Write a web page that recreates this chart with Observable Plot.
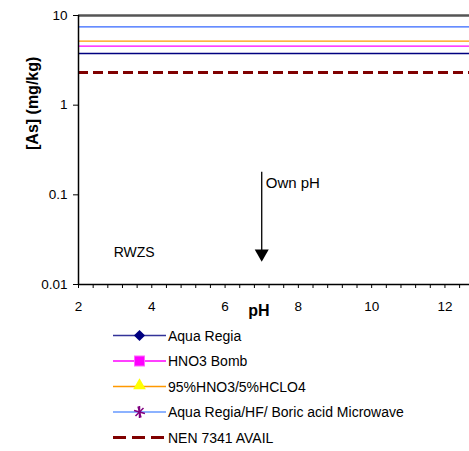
<!DOCTYPE html>
<html>
<head>
<meta charset="utf-8">
<script src="https://cdn.jsdelivr.net/npm/d3@7"></script>
<script src="https://cdn.jsdelivr.net/npm/@observablehq/plot@0.6"></script>
<style>
  html, body { margin: 0; padding: 0; background: #fff; }
  body { width: 469px; height: 451px; overflow: hidden; font-family: "Liberation Sans", Arial, sans-serif; }
  #chart svg { display: block; }
  #legend { display: block; }
</style>
</head>
<body>
<div id="chart"></div>
<svg id="legend" width="469" height="131"></svg>
<script>
// Series (horizontal reference levels, mg/kg)
const seriesNames = ["Aqua Regia", "HNO3 Bomb", "95%HNO3/5%HCLO4", "Aqua Regia/HF/ Boric acid Microwave", "NEN 7341 AVAIL"];
const seriesValues = [3.77, 4.55, 5.17, 7.48, 2.32];
const seriesColors = ["#000080", "#FF00FF", "#FF9900", "#3366FF", "#800000"];
const legendLineColors = ["#333399", "#FF00FF", "#FF9900", "#6699FF", "#800000"];
const seriesSymbols = ["diamond", "square", "triangle", "asterisk", "none"];

// Axes
const xDomain = [2, 12.67];
const yDomain = [0.01, 10];
const xTickLabels = [2, 4, 6, 8, 10, 12];
const xMinorTicks = [2, 2.4, 2.8, 3.2, 3.6, 4, 4.4, 4.8, 5.2, 5.6, 6, 6.4, 6.8, 7.2, 7.6, 8, 8.4, 8.8, 9.2, 9.6, 10, 10.4, 10.8, 11.2, 11.6, 12, 12.4];
const yTickLabels = [0.01, 0.1, 1, 10];

// Annotations
const ownPH = {x: 7, yTop: 0.179, yTip: 0.0185, label: "Own pH", labelY: 0.134};
const sampleLabel = {x: 2.96, y: 0.0229, text: "RWZS"};

const series = seriesNames.map((name, i) => ({name, value: seriesValues[i], color: seriesColors[i]}));
const solid = series.filter(d => d.name !== "NEN 7341 AVAIL");
const dashed = series.filter(d => d.name === "NEN 7341 AVAIL");

const font = "Liberation Sans, Arial, sans-serif";

const plot = Plot.plot({
  width: 469,
  height: 320,
  marginLeft: 78,
  marginRight: 0,
  marginTop: 15,
  marginBottom: 36,
  style: {fontFamily: font, fontSize: "14px", color: "#000", background: "#fff", overflow: "visible"},
  x: {domain: xDomain, label: null},
  y: {type: "log", domain: yDomain, label: null},
  marks: [
    Plot.ruleY([10], {stroke: "#555", strokeWidth: 2.5}),
    Plot.ruleY(solid, {y: "value", stroke: "color", strokeWidth: 1.3}),
    Plot.ruleY(dashed, {y: "value", stroke: "color", strokeWidth: 3, strokeDasharray: "10,5"}),
    Plot.axisX({ticks: xMinorTicks, tickSize: 4, tickFormat: () => "", stroke: "#000", label: null}),
    Plot.axisX({ticks: xTickLabels, tickSize: 0, tickPadding: 17, tickFormat: d => String(d), fontSize: 13.5, label: null}),
    Plot.axisY({ticks: yTickLabels, tickSize: 5, tickPadding: 6, tickFormat: d => String(d), fontSize: 13.5, label: null}),
    Plot.ruleX([xDomain[0]], {stroke: "#000", strokeWidth: 1.5}),
    Plot.ruleY([yDomain[0]], {stroke: "#000", strokeWidth: 1.5}),
    Plot.text(["pH"], {frameAnchor: "bottom", dy: 31, fontWeight: "bold", fontSize: 16, dx: -15}),
    Plot.text(["[As] (mg/kg)"], {frameAnchor: "left", dx: -46, rotate: -90, fontWeight: "bold", fontSize: 16}),
    Plot.ruleX([ownPH], {x: "x", y1: "yTop", y2: "yTip", stroke: "#000", strokeWidth: 1.3}),
    Plot.dot([ownPH], {x: "x", y: "yTip", symbol: "triangle", rotate: 180, r: 5.2, fill: "#000", stroke: "none", dy: -7}),
    Plot.text([ownPH], {x: "x", y: "labelY", text: "label", dx: 4, textAnchor: "start", fontSize: 15}),
    Plot.text([sampleLabel], {x: "x", y: "y", text: "text", textAnchor: "start", fontSize: 14})
  ]
});
document.getElementById("chart").appendChild(plot);

// Legend below the plot
const leg = d3.select("#legend");
const rowY0 = 335.5 - 320, rowStep = 25.5;
const lx1 = 113, lx2 = 166, mx = 139.5, tx = 168;
series.forEach((d, i) => {
  const y = rowY0 + i * rowStep;
  const g = leg.append("g");
  if (d.name === "NEN 7341 AVAIL") {
    g.append("line").attr("x1", lx1).attr("x2", lx2).attr("y1", y).attr("y2", y)
      .attr("stroke", legendLineColors[i]).attr("stroke-width", 3).attr("stroke-dasharray", "13,6");
  } else {
    g.append("line").attr("x1", lx1).attr("x2", lx2).attr("y1", y).attr("y2", y)
      .attr("stroke", legendLineColors[i]).attr("stroke-width", 1.3);
  }
  const sym = seriesSymbols[i];
  if (sym === "diamond") {
    g.append("path").attr("d", d3.symbol(d3.symbolDiamond2, 80)()).attr("transform", `translate(${mx},${y})`).attr("fill", "#000080");
  } else if (sym === "square") {
    g.append("rect").attr("x", mx - 5).attr("y", y - 5).attr("width", 10).attr("height", 10)
      .attr("fill", "#FF00FF").attr("stroke", "#FF66FF").attr("stroke-width", 1);
  } else if (sym === "triangle") {
    g.append("path").attr("d", d3.symbol(d3.symbolTriangle, 70)()).attr("transform", `translate(${mx},${y - 1})`).attr("fill", "#FFFF00");
  } else if (sym === "asterisk") {
    g.append("path").attr("d", d3.symbol(d3.symbolAsterisk, 90)()).attr("transform", `translate(${mx},${y}) rotate(45)`)
      .attr("fill", "none").attr("stroke", "#800080").attr("stroke-width", 1.5);
    g.append("line").attr("x1", mx).attr("x2", mx).attr("y1", y - 6).attr("y2", y + 6).attr("stroke", "#800080").attr("stroke-width", 1.5);
  }
  g.append("text").attr("x", tx).attr("y", y).attr("dy", "0.36em")
    .attr("font-family", font).attr("font-size", 14).attr("fill", "#000").text(d.name);
});
</script>
</body>
</html>
